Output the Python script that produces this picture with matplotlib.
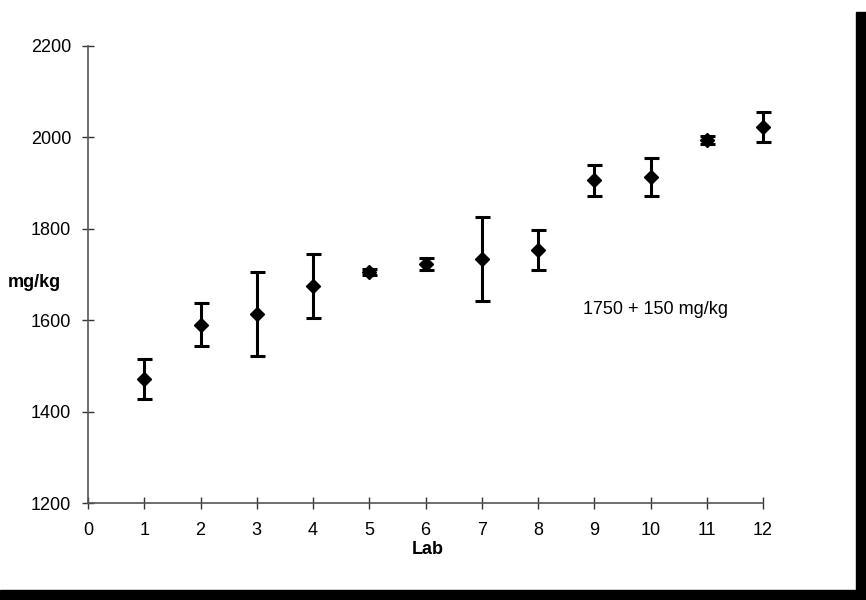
import matplotlib.pyplot as plt
from matplotlib.patches import Rectangle

plt.rcParams['font.family'] = ['Liberation Sans', 'DejaVu Sans']

# lab results, mg/kg
labs = [1, 2, 3, 4, 5, 6, 7, 8, 9, 10, 11, 12]
means = [1472, 1590, 1613, 1675, 1706, 1723, 1734, 1754, 1906, 1913, 1994, 2023]
errors = [44, 47, 92, 70, 6, 14, 92, 44, 34, 42, 9, 33]

x_ticks = list(range(0, 13))
y_ticks = [1200, 1400, 1600, 1800, 2000, 2200]

fig = plt.figure(figsize=(8.66, 6), dpi=100)
ax = fig.add_axes([88 / 866, 1 - 503 / 600, (763 - 88) / 866, (503 - 46) / 600])

ax.errorbar(labs, means, yerr=errors, fmt="D", color="black", markersize=7.5,
            ecolor="black", elinewidth=2.2, capsize=5.4, capthick=2.2, clip_on=False)

ax.set_xlim(0, 12)
ax.set_ylim(1200, 2200)
ax.set_xticks(x_ticks)
ax.set_yticks(y_ticks)
for side in ["top", "right"]:
    ax.spines[side].set_visible(False)
for side in ["left", "bottom"]:
    ax.spines[side].set_color("#555555")
    ax.spines[side].set_linewidth(1.2)
ax.tick_params(direction="inout", length=8, width=1, color="#333333", labelsize=13)
ax.tick_params(axis="x", pad=10)
ax.tick_params(axis="y", pad=8)

ax.set_xlabel("Lab", fontsize=13, fontweight="bold")
ax.set_ylabel("mg/kg", fontsize=13, fontweight="bold", rotation=0)
ax.yaxis.set_label_coords(-0.079, 0.463)
ax.xaxis.set_label_coords(0.504, -0.083)

ax.text(8.8, 1624, "1750 + 150 mg/kg", fontsize=13, va="center", ha="left")

# scanned page border
fig.patches.append(Rectangle((856 / 866, 0), 10 / 866, 1 - 12 / 600,
                             transform=fig.transFigure, color="black"))
fig.patches.append(Rectangle((0, 0), 1, 10 / 600,
                             transform=fig.transFigure, color="black"))

fig.savefig("out.png", dpi=100)
